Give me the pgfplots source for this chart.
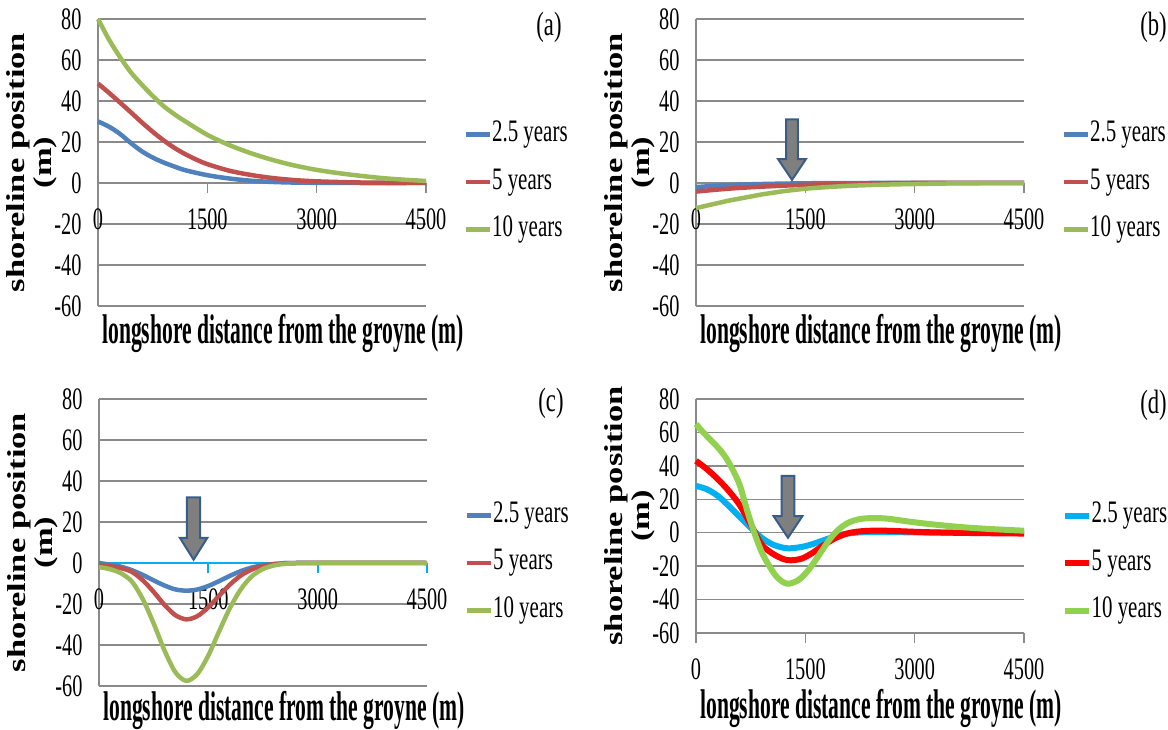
\documentclass[border=0pt]{standalone}
\usepackage{fontspec}
\setmainfont{Liberation Serif}
\newfontfamily\tickfont[FakeStretch=0.65]{Liberation Serif}
\newfontfamily\legfont[FakeStretch=0.67]{Liberation Serif}
\newfontfamily\titfont[FakeStretch=0.52]{Liberation Serif}
\usepackage{graphicx}
\usepackage{pgfplots}
\pgfplotsset{compat=1.18}

\definecolor{xlblue}{HTML}{4F81BD}
\definecolor{xlred}{HTML}{C0504D}
\definecolor{xlgreen}{HTML}{9BBB59}
\definecolor{dcyan}{HTML}{00B0F0}
\definecolor{dred}{HTML}{FF0000}
\definecolor{dgreen}{HTML}{92D050}
\definecolor{gridgray}{HTML}{8A8A8A}
\definecolor{arrowgray}{HTML}{7F7F7F}
\definecolor{arrowblue}{HTML}{385D8A}

\newcommand{\ylab}{\scalebox{0.75}[1]{\rotatebox{90}{\bfseries\fontsize{13.8}{14.5}\selectfont
  \begin{tabular}{@{}c@{}}shoreline position\\(m)\end{tabular}}}}
\newcommand{\xlab}{{\titfont\bfseries\fontsize{16.6}{18}\selectfont longshore distance from the groyne (m)}}

\tikzset{lett/.style={font=\legfont\fontsize{13.5}{15}\selectfont}}

\pgfplotsset{
  panel/.style={
    scale only axis, width=131.2pt, anchor=south west, clip=false,
    xmin=0, xmax=4500, ymin=-60, ymax=80,
    xtick={0,1500,3000,4500}, ytick={-60,-40,...,80},
    axis y line*=left,
    hide obscured x ticks=false, hide obscured y ticks=false,
    ymajorgrids, grid style={draw=gridgray, line width=0.6pt},
    axis line style={draw=gridgray, line width=0.6pt},
    tick align=outside, major tick length=4pt,
    xtick style={draw=gridgray, line width=0.6pt},
    ytick style={draw=none},
    /pgf/number format/assume math mode=true,
    /pgf/number format/1000 sep={},
    ticklabel style={font=\tickfont\fontsize{12.5}{14}\selectfont, inner sep=0pt},
    xticklabel style={anchor=north, yshift=-6.0pt},
    yticklabel style={anchor=east, xshift=-2.4pt},
    legend cell align=left,
    legend image code/.code={\draw[##1] (0pt,0pt) -- (9.6pt,0pt);},
    legend style={anchor=west, draw=none, fill=none, inner sep=0pt,
      row sep=7.8pt, font=\legfont\fontsize{12.5}{14}\selectfont,
      nodes={inner sep=0pt, text height=8.4pt, text depth=2.8pt}},
  },
  ser/.style={smooth, tension=0.5, line width=1.8pt, no marks},
}

\begin{document}
\begin{tikzpicture}
\useasboundingbox (0,0) rectangle (467.2pt,291.6pt);

% (a)
\begin{axis}[panel, at={(39.2pt,169.2pt)}, height=114.8pt,
  axis x line*=middle,
  legend style={at={(axis description cs:1.113,0.432)}}]
\addplot[ser, xlblue] coordinates {(0,30) (150,27.5) (300,24) (450,19.5) (600,15.5) (750,12.4) (900,10) (1050,8) (1200,6.2) (1500,3.8) (1800,2.2) (2100,1.1) (2400,0.5) (2700,0.2) (3000,0.1) (3500,0) (4500,0)};
\addlegendentry{2.5 years}
\addplot[ser, xlred] coordinates {(0,48.5) (150,44) (300,39.3) (450,34.5) (600,29.6) (750,25) (900,20.8) (1050,17.1) (1200,14) (1350,11.4) (1500,9.2) (1800,6) (2100,3.9) (2400,2.4) (2700,1.4) (3000,0.8) (3500,0.3) (4000,0.1) (4500,0)};
\addlegendentry{5 years}
\addplot[ser, xlgreen] coordinates {(0,80) (150,70) (300,61.5) (450,54) (600,48) (750,42.5) (900,37.5) (1050,33.5) (1200,30) (1500,23.5) (1800,18.5) (2100,14.5) (2400,11.2) (2700,8.5) (3000,6.4) (3300,4.8) (3600,3.5) (3900,2.4) (4200,1.6) (4500,1)};
\addlegendentry{10 years}
\node[xshift=-26.2pt] at (axis description cs:0,0.5) {\ylab};
\node at ([yshift=-10.8pt]axis description cs:0.564,0) {\xlab};
\node[lett] at (axis description cs:1.375,0.972) {(a)};
\end{axis}

% (b)
\begin{axis}[panel, at={(278.4pt,169.2pt)}, height=114.8pt,
  axis x line*=middle,
  legend style={at={(axis description cs:1.113,0.432)}}]
\addplot[ser, xlblue] coordinates {(0,-2) (300,-1.3) (600,-0.8) (900,-0.5) (1200,-0.3) (1500,-0.15) (2000,-0.05) (2500,0) (4500,0)};
\addlegendentry{2.5 years}
\addplot[ser, xlred] coordinates {(0,-4.2) (300,-3.2) (600,-2.4) (900,-1.8) (1200,-1.3) (1500,-0.9) (1800,-0.6) (2100,-0.4) (2400,-0.2) (2700,-0.1) (3000,0) (4500,0)};
\addlegendentry{5 years}
\addplot[ser, xlgreen] coordinates {(0,-12.3) (150,-11) (300,-9.8) (450,-8.6) (600,-7.6) (750,-6.6) (900,-5.6) (1050,-4.8) (1200,-4) (1500,-2.8) (1800,-2) (2100,-1.4) (2400,-1) (2700,-0.7) (3000,-0.5) (3300,-0.3) (3600,-0.2) (4000,-0.1) (4500,0)};
\addlegendentry{10 years}
\filldraw[fill=arrowgray, draw=arrowblue, line width=0.8pt]
  (axis cs:1235,31) -- (axis cs:1399,31) -- (axis cs:1399,11.7) -- (axis cs:1509,11.7)
  -- (axis cs:1317,1.5) -- (axis cs:1125,11.7) -- (axis cs:1235,11.7) -- cycle;
\node[xshift=-26.2pt] at (axis description cs:0,0.5) {\ylab};
\node at ([yshift=-10.8pt]axis description cs:0.564,0) {\xlab};
\node[lett] at (axis description cs:1.395,0.972) {(b)};
\end{axis}

% (c)
\begin{axis}[panel, at={(39.6pt,17.2pt)}, height=114.8pt,
  axis x line*=middle,
  x axis line style={draw=dcyan, line width=0.8pt},
  xtick style={draw=dcyan, line width=0.8pt},
  legend style={at={(axis description cs:1.113,0.429)}}]
\addplot[ser, xlblue] coordinates {(0,0) (150,-0.8) (300,-1.8) (450,-3.5) (600,-5.8) (750,-8.5) (900,-11) (1050,-12.9) (1200,-13.5) (1350,-12.9) (1500,-11.2) (1650,-8.8) (1800,-6.2) (1950,-3.9) (2100,-2.2) (2250,-1.1) (2400,-0.5) (2550,-0.2) (2700,0) (4500,0)};
\addlegendentry{2.5 years}
\addplot[ser, xlred] coordinates {(0,-1) (150,-1.5) (300,-2.5) (450,-4.3) (600,-8.4) (750,-14.1) (900,-20.5) (1050,-25.5) (1200,-27.5) (1350,-25.9) (1500,-21.6) (1650,-15.9) (1800,-10.4) (1950,-6) (2100,-3.1) (2250,-1.4) (2400,-0.6) (2550,-0.2) (2700,0) (4500,0)};
\addlegendentry{5 years}
\addplot[ser, xlgreen] coordinates {(0,-2) (150,-3) (300,-5) (450,-9) (600,-17.6) (750,-29.5) (900,-42.8) (1050,-53.4) (1200,-57.5) (1350,-54.1) (1500,-45.1) (1650,-33.2) (1800,-21.7) (1950,-12.6) (2100,-6.4) (2250,-2.9) (2400,-1.2) (2550,-0.4) (2700,-0.1) (3000,0) (4500,0)};
\addlegendentry{10 years}
\filldraw[fill=arrowgray, draw=arrowblue, line width=0.8pt]
  (axis cs:1207,32) -- (axis cs:1389,32) -- (axis cs:1389,12.2) -- (axis cs:1485,12.2)
  -- (axis cs:1298,1.6) -- (axis cs:1111,12.2) -- (axis cs:1207,12.2) -- cycle;
\node[xshift=-26.2pt] at (axis description cs:0,0.5) {\ylab};
\node at ([yshift=-9.6pt]axis description cs:0.564,0) {\xlab};
\node[lett] at (axis description cs:1.378,0.986) {(c)};
\end{axis}

% (d)
\begin{axis}[panel, at={(278.4pt,38.4pt)}, height=93.6pt,
  axis x line*=bottom,
  legend style={at={(axis description cs:1.113,0.299)}}]
\addplot[ser, dcyan, line width=2.4pt] coordinates {(0,28) (150,26) (300,22) (450,16) (600,9.5) (750,3) (900,-3) (1050,-7) (1200,-9) (1300,-9.3) (1450,-8.5) (1600,-6.8) (1750,-4.5) (1900,-2.3) (2050,-0.7) (2250,0.2) (2500,0.4) (2800,0.3) (3200,0.1) (3700,0) (4500,0)};
\addlegendentry{2.5 years}
\addplot[ser, dred, line width=2.4pt] coordinates {(0,43) (150,38) (300,32) (450,25) (600,16.5) (750,5) (900,-7) (1050,-12.5) (1200,-15.8) (1300,-16.5) (1450,-15.5) (1600,-12) (1750,-7.5) (1900,-3.5) (2050,-0.8) (2200,0.6) (2400,1.2) (2600,1.2) (2800,0.9) (3100,0.4) (3500,0) (4000,-0.3) (4500,-0.5)};
\addlegendentry{5 years}
\addplot[ser, dgreen, line width=2.4pt] coordinates {(0,65) (100,60) (200,55.5) (300,51) (400,45.5) (500,38) (600,28.5) (700,13.5) (800,0) (900,-11.5) (1000,-19.5) (1100,-26) (1200,-29.7) (1280,-30.5) (1400,-28.5) (1500,-24.5) (1600,-19) (1700,-12.5) (1800,-6) (1900,-0.5) (2000,3.5) (2100,6.2) (2250,8.2) (2450,8.8) (2650,8.3) (2900,6.8) (3200,5.2) (3600,3.5) (4000,2.3) (4500,1.2)};
\addlegendentry{10 years}
\filldraw[fill=arrowgray, draw=arrowblue, line width=0.8pt]
  (axis cs:1173,34) -- (axis cs:1351,34) -- (axis cs:1351,10) -- (axis cs:1461,10)
  -- (axis cs:1262,-3) -- (axis cs:1063,10) -- (axis cs:1173,10) -- cycle;
\node[xshift=-26.2pt] at (axis description cs:0,0.5) {\ylab};
\node at ([yshift=-30pt]axis description cs:0.564,0) {\xlab};
\node[lett] at (axis description cs:1.395,0.974) {(d)};
\end{axis}
\end{tikzpicture}
\end{document}
